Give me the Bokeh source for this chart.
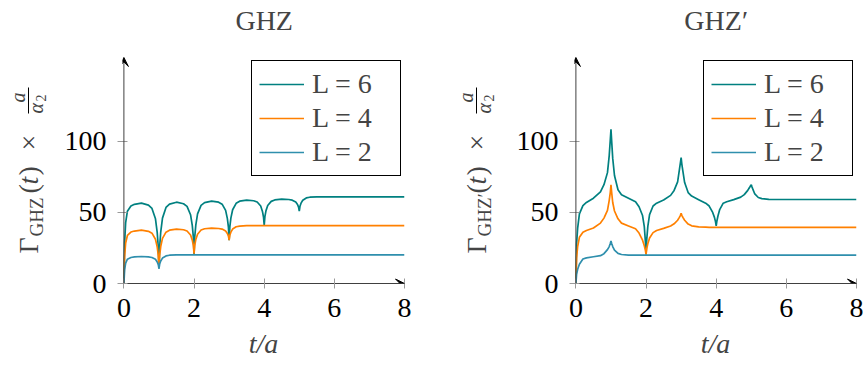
from bokeh.plotting import figure
from bokeh.layouts import row
from bokeh.models import Label, Arrow, VeeHead, FixedTicker, Legend, LegendItem, Range1d
from bokeh.embed import file_html
from bokeh.resources import INLINE

# ---------------- data ----------------
t = [0, 0.02, 0.05, 0.1, 0.2, 0.3, 0.5, 0.7, 0.8, 0.9, 0.95, 0.98,
     1, 1.02, 1.05, 1.1, 1.2, 1.3, 1.5, 1.7, 1.8, 1.9, 1.95, 1.98,
     2, 2.02, 2.05, 2.1, 2.2, 2.3, 2.5, 2.7, 2.8, 2.9, 2.95, 2.98,
     3, 3.02, 3.05, 3.1, 3.2, 3.3, 3.5, 3.7, 3.8, 3.9, 3.95, 3.98,
     4, 4.02, 4.05, 4.1, 4.2, 4.3, 4.5, 4.7, 4.8, 4.9, 4.95, 4.98,
     5, 5.02, 5.05, 5.1, 5.2, 5.3, 5.5, 5.7, 5.8, 5.9, 5.95, 5.98,
     6, 7, 8]

ghz_L6 = [0, 28.3, 42.9, 50.9, 54.5, 55.7, 56.5, 55.1, 52.8, 45.5, 35.8, 25.7,
          10.5, 25.9, 36.2, 46.0, 53.5, 55.8, 57.2, 56.1, 54.3, 48.4, 40.7, 32.6,
          20.5, 32.9, 41.1, 49.0, 55.0, 56.9, 58.0, 57.2, 55.8, 51.4, 45.6, 39.6,
          30.5, 39.8, 46.0, 51.9, 56.4, 57.9, 58.7, 58.2, 57.3, 54.5, 50.7, 46.8,
          41.0, 47.0, 51.1, 54.9, 57.8, 58.8, 59.3, 59.1, 58.6, 57.3, 55.6, 53.7,
          51.0, 54.3, 56.5, 58.6, 60.2, 60.7, 61.0, 61.0, 61.0, 61.0, 61.0, 61.0,
          61.0, 61.0, 61.0]
ghz_L4 = [0, 18.8, 28.5, 33.8, 36.2, 36.9, 37.5, 36.7, 35.4, 31.1, 25.6, 19.7,
          11.0, 20.0, 26.0, 31.7, 36.1, 37.5, 38.3, 37.8, 36.9, 34.1, 30.5, 26.7,
          21.0, 26.9, 30.9, 34.7, 37.6, 38.5, 39.0, 38.7, 38.3, 37.0, 35.2, 33.3,
          30.5, 33.9, 36.1, 38.3, 39.9, 40.4, 40.7, 40.7, 40.7, 40.7, 40.7, 40.7,
          40.7, 40.7, 40.7, 40.7, 40.7, 40.7, 40.7, 40.7, 40.7, 40.7, 40.7, 40.7,
          40.7, 40.7, 40.7, 40.7, 40.7, 40.7, 40.7, 40.7, 40.7, 40.7, 40.7, 40.7,
          40.7, 40.7, 40.7]
ghz_L2 = [0, 9.5, 14.4, 17.1, 18.3, 18.7, 19.0, 18.7, 18.3, 17.0, 15.2, 13.3,
          10.5, 13.7, 15.8, 17.9, 19.4, 19.9, 20.2, 20.2, 20.2, 20.2, 20.2, 20.2,
          20.2, 20.2, 20.2, 20.2, 20.2, 20.2, 20.2, 20.2, 20.2, 20.2, 20.2, 20.2,
          20.2, 20.2, 20.2, 20.2, 20.2, 20.2, 20.2, 20.2, 20.2, 20.2, 20.2, 20.2,
          20.2, 20.2, 20.2, 20.2, 20.2, 20.2, 20.2, 20.2, 20.2, 20.2, 20.2, 20.2,
          20.2, 20.2, 20.2, 20.2, 20.2, 20.2, 20.2, 20.2, 20.2, 20.2, 20.2, 20.2,
          20.2, 20.2, 20.2]

ghzp_L6 = [0, 28, 39, 49, 54.8, 57, 60, 64.5, 69.5, 78, 90, 101,
           108.5, 100, 88, 76, 66, 62.5, 60, 57.5, 54, 47.8, 40, 30,
           20.5, 31, 40, 48.5, 54.5, 56.5, 58.8, 62, 65.5, 71.5, 80, 85,
           88.5, 84, 79, 71, 64, 61.5, 59, 56.5, 54.5, 50, 46.5, 43.5,
           40.5, 44, 47.5, 52, 56.5, 57.5, 59, 60.8, 62.5, 65.5, 67.5, 68.8,
           69.5, 68, 66, 63, 60.5, 59.7, 59.2, 59.1, 59.1, 59.1, 59.1, 59.1,
           59.1, 59.1, 59.1]
ghzp_L4 = [0, 18, 26, 32.5, 36, 37.3, 39, 42.5, 46, 51.5, 58.5, 64,
           69.4, 64, 57, 51, 45.5, 42.5, 40.5, 38.5, 35.5, 30.5, 26.5, 23.5,
           20.5, 24.5, 28, 32, 35.8, 37.3, 38.8, 40.5, 42, 44.5, 46.5, 48,
           49.4, 48, 46.5, 44.5, 41.8, 40.6, 39.8, 39.6, 39.5, 39.5, 39.5, 39.5,
           39.5, 39.5, 39.5, 39.5, 39.5, 39.5, 39.5, 39.5, 39.5, 39.5, 39.5, 39.5,
           39.5, 39.5, 39.5, 39.5, 39.5, 39.5, 39.5, 39.5, 39.5, 39.5, 39.5, 39.5,
           39.5, 39.5, 39.5]
ghzp_L2 = [0, 6.5, 10, 13.6, 17.2, 18, 18.8, 19.6, 21, 23.8, 26, 28.2,
           30, 28.2, 26, 23.5, 21.2, 20.4, 20.0, 19.9, 19.9, 19.9, 19.9, 19.9,
           19.9, 19.9, 19.9, 19.9, 19.9, 19.9, 19.9, 19.9, 19.9, 19.9, 19.9, 19.9,
           19.9, 19.9, 19.9, 19.9, 19.9, 19.9, 19.9, 19.9, 19.9, 19.9, 19.9, 19.9,
           19.9, 19.9, 19.9, 19.9, 19.9, 19.9, 19.9, 19.9, 19.9, 19.9, 19.9, 19.9,
           19.9, 19.9, 19.9, 19.9, 19.9, 19.9, 19.9, 19.9, 19.9, 19.9, 19.9, 19.9,
           19.9, 19.9, 19.9]

series_labels = ["L = 6", "L = 4", "L = 2"]
x_ticks = [0, 2, 4, 6, 8]
y_ticks = [0, 50, 100]
titles = ["GHZ", "GHZ\u2032"]
subscripts = ["GHZ", "GHZ\u2032"]
x_label = "t/a"

colors = ["#008080", "#ff8000", "#2f8fad"]
FONT = "Liberation Serif"
FS = "28px"
X_MIN = -0.04
X_MAX = 8
Y_MAX = 159          # end of the drawn y axis (arrow tip)
Y_TOP = 199.1        # frame top (room for the title inside the frame)
H = 366
BOTTOM = 83          # page height below the x axis


def panel(title, ys, width, bl, br):
    p = figure(width=width, height=H, output_backend="svg", toolbar_location=None,
               title=None, x_range=Range1d(X_MIN, X_MAX), y_range=Range1d(0, Y_TOP),
               min_border_left=bl, min_border_right=br,
               min_border_top=0, min_border_bottom=BOTTOM)
    p.outline_line_color = None
    p.grid.visible = False
    p.background_fill_color = "white"
    p.border_fill_color = "white"

    rs = []
    for y, c in zip(ys, colors):
        rs.append(p.line(t, y, line_color=c, line_width=1.7))

    for ax in (p.xaxis[0], p.yaxis[0]):
        ax.axis_line_color = "#404040"
        ax.axis_line_width = 1
        ax.major_tick_line_color = "#9a9a9a"
        ax.major_tick_in = 5
        ax.major_tick_out = 5
        ax.minor_tick_line_color = None
        ax.major_label_text_font = FONT
        ax.major_label_text_font_size = FS
        ax.major_label_text_color = "black"
    p.yaxis.axis_line_color = None
    p.xaxis.ticker = FixedTicker(ticks=x_ticks)
    p.yaxis.ticker = FixedTicker(ticks=y_ticks)
    p.xaxis.major_label_standoff = 10
    p.yaxis.major_label_standoff = 11
    p.xaxis.axis_label = x_label
    p.xaxis.axis_label_text_font = FONT
    p.xaxis.axis_label_text_font_size = FS
    p.xaxis.axis_label_text_font_style = "italic"
    p.xaxis.axis_label_standoff = 8

    # axis arrows
    p.add_layout(Arrow(end=VeeHead(size=9, fill_color="black", line_color="black"),
                       x_start=X_MAX - 0.2, y_start=0, x_end=X_MAX, y_end=0,
                       line_color="#404040", line_width=1))
    p.add_layout(Arrow(end=VeeHead(size=9, fill_color="black", line_color="black"),
                       x_start=0, y_start=0, x_end=0, y_end=Y_MAX,
                       line_color="#404040", line_width=1))

    # title inside the (tall) frame, above the axes
    p.add_layout(Label(x=X_MAX / 2, y=185.0, text=title, text_align="center",
                       text_baseline="alphabetic", text_font=FONT, text_font_size=FS))

    leg = Legend(items=[LegendItem(label=l, renderers=[r]) for l, r in zip(series_labels, rs)],
                 location=(129, 107))
    leg.label_text_font = FONT
    leg.label_text_font_size = FS
    leg.label_height = 32
    leg.glyph_height = 32
    leg.glyph_width = 45
    leg.label_standoff = 8
    leg.label_width = 81
    leg.spacing = 2
    leg.padding = 7
    leg.margin = 0
    leg.border_line_color = "black"
    leg.border_line_width = 1
    leg.border_line_alpha = 1
    leg.background_fill_color = "white"
    leg.background_fill_alpha = 1
    p.add_layout(leg)
    return p


def ylabel_fig(width, bx, sub):
    f = figure(width=width, height=H, output_backend="svg", toolbar_location=None,
               title=None, x_range=Range1d(0, width), y_range=Range1d(BOTTOM, H),
               min_border_left=0, min_border_right=0,
               min_border_top=0, min_border_bottom=BOTTOM,
               x_axis_location=None, y_axis_location=None)
    f.grid.visible = False
    f.outline_line_color = None
    f.background_fill_color = "white"
    f.border_fill_color = "white"
    a90 = 1.5707963

    def lab(x, y, text, size=FS, style="normal", align="left"):
        f.add_layout(Label(x=x, y=H - y, angle=a90, text=text, text_font=FONT,
                           text_font_size=size, text_font_style=style,
                           text_align=align, text_baseline="alphabetic"))

    lab(bx - 9, 253, "\u0393")
    lab(bx - 1, 236, sub, size="19px")
    lab(bx - 9, 193, "(")
    lab(bx - 9, 184, "t", style="italic")
    lab(bx - 9, 175, ")")
    lab(bx - 9, 150, "\u00d7")
    lab(bx - 20, 97, "a", size="20px", style="italic", align="center")
    f.add_layout(Arrow(end=None, x_start=bx - 9, y_start=H - 113, x_end=bx - 9,
                       y_end=H - 87, line_color="black", line_width=1))
    lab(bx - 2, 113, "\u03b1", size="20px", style="italic")
    lab(bx + 3, 101, "2", size="14px")
    return f


yl1 = ylabel_fig(60, 37, subscripts[0])
p1 = panel(titles[0], [ghz_L6, ghz_L4, ghz_L2], 370, 62, 26)
yl2 = ylabel_fig(70, 55, subscripts[1])
p2 = panel(titles[1], [ghzp_L6, ghzp_L4, ghzp_L2], 363, 74, 7)

layout = row(yl1, p1, yl2, p2)
open("out.html", "w").write(file_html(layout, INLINE))
